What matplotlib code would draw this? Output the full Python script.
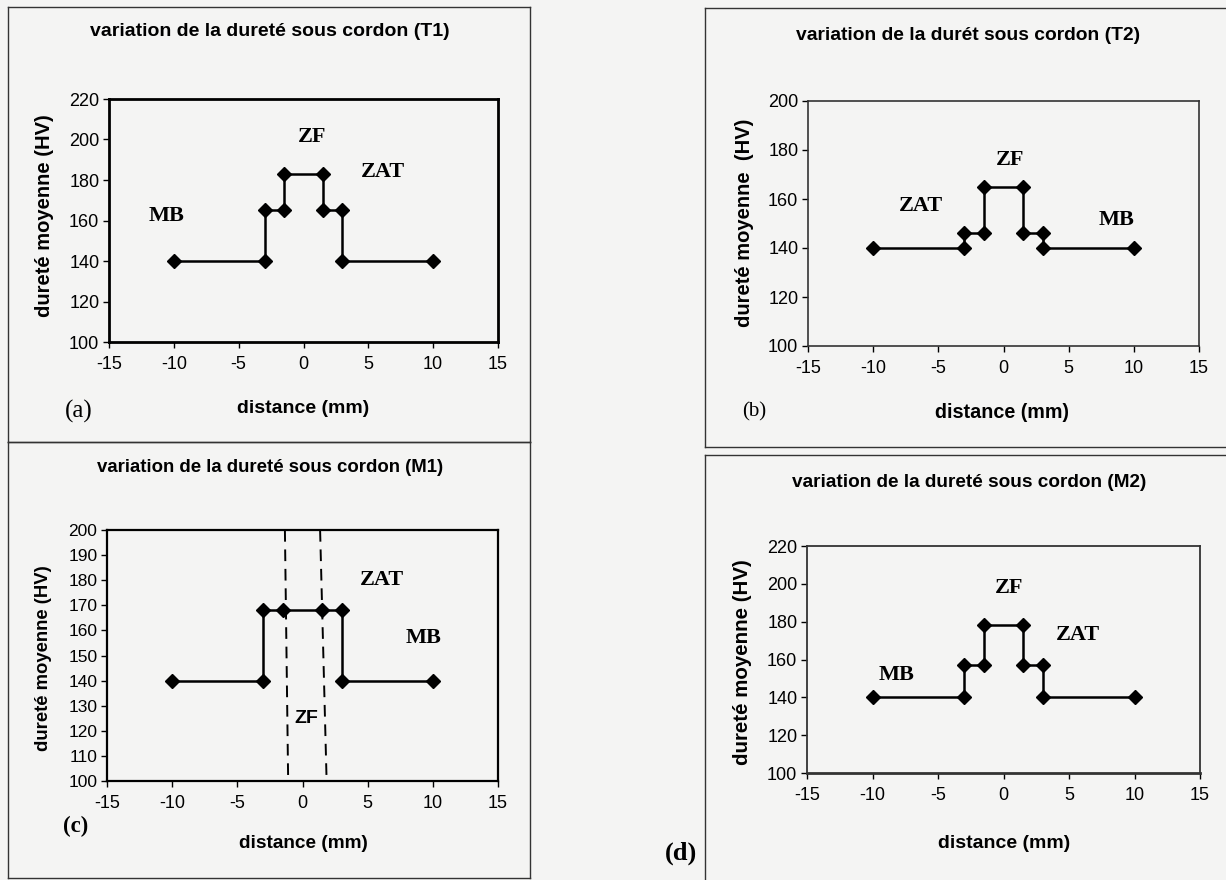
import matplotlib
matplotlib.use('Agg')
import matplotlib.pyplot as plt
from matplotlib.lines import Line2D

# ---- données ----
dist_T1 = [-10, -3, -3, -1.5, -1.5, 1.5, 1.5, 3, 3, 10]
hv_T1 = [140, 140, 165, 165, 183, 183, 165, 165, 140, 140]

dist_T2 = [-10, -3, -3, -1.5, -1.5, 1.5, 1.5, 3, 3, 10]
hv_T2 = [140, 140, 146, 146, 165, 165, 146, 146, 140, 140]

dist_M1 = [-10, -3, -3, -1.5, 1.5, 3, 3, 10]
hv_M1 = [140, 140, 168, 168, 168, 168, 140, 140]
zf_M1_haut = [-1.35, 1.35]   # limites ZF en haut (y=200)
zf_M1_bas = [-1.1, 1.85]     # limites ZF en bas (y=100)

dist_M2 = [-10, -3, -3, -1.5, -1.5, 1.5, 1.5, 3, 3, 10]
hv_M2 = [140, 140, 157, 157, 178, 178, 157, 157, 140, 140]

xticks = [-15, -10, -5, 0, 5, 10, 15]
yticks_T1 = [100, 120, 140, 160, 180, 200, 220]
yticks_T2 = [100, 120, 140, 160, 180, 200]
yticks_M1 = [100, 110, 120, 130, 140, 150, 160, 170, 180, 190, 200]
yticks_M2 = [100, 120, 140, 160, 180, 200, 220]

W, H = 1226, 880
BG = '#f4f4f3'
plt.rcParams['font.family'] = ['Liberation Sans', 'DejaVu Sans']
plt.rcParams['axes.unicode_minus'] = False

fig = plt.figure(figsize=(W / 100, H / 100), dpi=100, facecolor=BG)


def fx(x):
    return x / W


def fy(y):
    return 1 - y / H


def add_ax(l, t, r, b):
    return fig.add_axes([fx(l), fy(b), fx(r) - fx(l), fy(t) - fy(b)])


def style_ax(ax, yticks, lw=1.5, col='black', ysize=13):
    ax.set_facecolor(BG)
    ax.set_xlim(-15, 15)
    ax.set_ylim(yticks[0], yticks[-1])
    ax.set_xticks(xticks)
    ax.set_yticks(yticks)
    ax.tick_params(direction='out', length=4, width=1, labelsize=13)
    ax.tick_params(axis='y', pad=3, labelsize=ysize)
    ax.tick_params(axis='x', pad=6)
    for s in ax.spines.values():
        s.set_linewidth(lw)
        s.set_color(col)


def courbe(ax, x, y):
    ax.plot(x, y, color='black', lw=1.8, marker='D', markersize=7,
            clip_on=False)


def zone(ax, x, y, txt, size=16):
    ax.text(x, y, txt, family='Liberation Serif', fontweight='bold',
            fontsize=size, ha='center', va='center')


def titre(x, y, txt, size):
    fig.text(fx(x), fy(y), txt, fontsize=size, fontweight='bold',
             ha='center', va='center')


def ylab(x, y, txt, size):
    fig.text(fx(x), fy(y), txt, rotation=90, fontsize=size,
             fontweight='bold', ha='center', va='center')


# cadres des panneaux (document scanné)
def cadre(l, t, r, b, col='#333333'):
    for (x0, y0, x1, y1) in [(l, t, r, t), (l, b, r, b), (l, t, l, b), (r, t, r, b)]:
        fig.add_artist(Line2D([fx(x0), fx(x1)], [fy(y0), fy(y1)],
                              color=col, lw=1.0))


cadre(8, 7, 530, 442)
cadre(8, 442, 530, 878)
cadre(705, 8, 1240, 447)
cadre(705, 455, 1240, 890)

# ---- (a) T1 ----
ax = add_ax(109, 99, 498, 342)
style_ax(ax, yticks_T1, lw=2)
courbe(ax, dist_T1, hv_T1)
zone(ax, 0.7, 201, 'ZF')
zone(ax, 6.1, 184, 'ZAT')
zone(ax, -10.6, 162, 'MB')
titre(270, 31, 'variation de la dureté sous cordon (T1)', 14)
ylab(45, 216, 'dureté moyenne (HV)', 14.5)
titre(303, 408, 'distance (mm)', 14)
fig.text(fx(79), fy(411), '(a)', family='Liberation Serif', fontsize=18,
         ha='center', va='center')

# ---- (b) T2 ----
ax = add_ax(808, 101, 1199, 346)
style_ax(ax, yticks_T2, lw=1.2, col='#333333')
courbe(ax, dist_T2, hv_T2)
zone(ax, 0.5, 176, 'ZF')
zone(ax, -6.3, 157, 'ZAT')
zone(ax, 8.7, 151.5, 'MB')
titre(968, 36, 'variation de la durét sous cordon (T2)', 13.9)
ylab(744, 223, 'dureté moyenne  (HV)', 14.5)
titre(1002, 412, 'distance (mm)', 14.2)
fig.text(fx(754), fy(412), '(b)', family='Liberation Serif', fontsize=15,
         ha='center', va='center')

# ---- (c) M1 ----
ax = add_ax(107, 530, 498, 781)
style_ax(ax, yticks_M1, lw=1.6, ysize=12.5)
courbe(ax, dist_M1, hv_M1)
for xh, xb in zip(zf_M1_haut, zf_M1_bas):
    ax.plot([xh, xb], [yticks_M1[-1], yticks_M1[0]], color='black',
            lw=1.4, ls=(0, (6, 4)))
zone(ax, 6.1, 180, 'ZAT')
zone(ax, 9.3, 157, 'MB')
ax.text(0.3, 125, 'ZF', fontsize=14, fontweight='bold', ha='center',
        va='center')
titre(270, 467, 'variation de la dureté sous cordon (M1)', 13.4)
ylab(44, 658, 'dureté moyenne (HV)', 13.3)
titre(303, 843, 'distance (mm)', 13.7)
fig.text(fx(76), fy(826), '(c)', family='Liberation Serif', fontsize=16.5,
         fontweight='bold', ha='center', va='center')

# ---- (d) M2 ----
ax = add_ax(807, 546, 1200, 773)
style_ax(ax, yticks_M2, lw=1.3, col='#333333')
ax.spines['bottom'].set_linewidth(2)
courbe(ax, dist_M2, hv_M2)
zone(ax, 0.4, 198, 'ZF')
zone(ax, 5.7, 173, 'ZAT')
zone(ax, -8.2, 152, 'MB')
titre(969, 482, 'variation de la dureté sous cordon (M2)', 13.7)
ylab(743, 662, 'dureté moyenne (HV)', 14.8)
titre(1004, 843, 'distance (mm)', 14)
fig.text(fx(681), fy(853), '(d)', family='Liberation Serif', fontsize=19,
         fontweight='bold', ha='center', va='center')

fig.savefig('out.png', dpi=100, facecolor=BG)
